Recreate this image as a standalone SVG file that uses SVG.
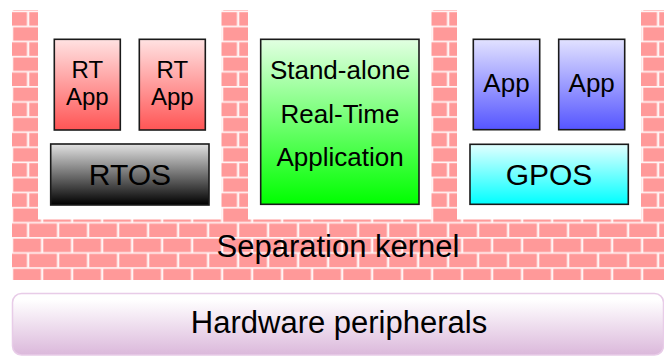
<svg xmlns="http://www.w3.org/2000/svg" width="664" height="356" viewBox="0 0 664 356">
  <defs>
    <pattern id="brick" patternUnits="userSpaceOnUse" x="-0.7" y="11" width="30" height="30.2">
      <rect width="30" height="30.2" fill="#fff4f4"/>
      <rect x="0" y="1.2" width="27.6" height="13.4" fill="#ff9999"/>
      <rect x="-16" y="16.3" width="27.6" height="13.4" fill="#ff9999"/>
      <rect x="14" y="16.3" width="27.6" height="13.4" fill="#ff9999"/>
    </pattern>
    <linearGradient id="gRed" x1="0" y1="0" x2="0" y2="1">
      <stop offset="0" stop-color="#ffe2e2"/>
      <stop offset="1" stop-color="#ff5555"/>
    </linearGradient>
    <linearGradient id="gGray" x1="0" y1="0" x2="0" y2="1">
      <stop offset="0" stop-color="#e2e2e2"/>
      <stop offset="1" stop-color="#000000"/>
    </linearGradient>
    <linearGradient id="gGreen" x1="0" y1="0" x2="0" y2="1">
      <stop offset="0" stop-color="#e2ffe2"/>
      <stop offset="1" stop-color="#00ff00"/>
    </linearGradient>
    <linearGradient id="gBlue" x1="0" y1="0" x2="0" y2="1">
      <stop offset="0" stop-color="#e2e2ff"/>
      <stop offset="1" stop-color="#5555ff"/>
    </linearGradient>
    <linearGradient id="gCyan" x1="0" y1="0" x2="0" y2="1">
      <stop offset="0" stop-color="#e2ffff"/>
      <stop offset="1" stop-color="#00ffff"/>
    </linearGradient>
    <linearGradient id="gHw" x1="0" y1="0" x2="0" y2="1">
      <stop offset="0.1" stop-color="#ffffff"/>
      <stop offset="1" stop-color="#dbb8db"/>
    </linearGradient>
  </defs>
  <style>
    .box { stroke: #1a1a1a; stroke-width: 1.6; }
    .t { font-family: "Liberation Sans", Arial, Helvetica, sans-serif; fill: #000; text-anchor: middle; }
    .s24 { font-size: 24px; }
    .s26 { font-size: 26px; }
    .s30 { font-size: 30px; }
    .s31 { font-size: 31px; }
  </style>

  <rect width="664" height="356" fill="#ffffff"/>

  <g id="separation-kernel">
    <rect x="12" y="10" width="652" height="270" fill="url(#brick)"/>
    <rect x="38" y="0" width="183.5" height="219.5" fill="#ffffff"/>
    <rect x="248" y="0" width="183.5" height="219.5" fill="#ffffff"/>
    <rect x="457" y="0" width="184" height="219.5" fill="#ffffff"/>
    <text class="t s31" x="338" y="257">Separation kernel</text>
  </g>

  <g id="rt-app-1">
    <rect class="box" x="54.3" y="39.3" width="66" height="90.7" fill="url(#gRed)"/>
    <text class="t s24" x="87.3" y="78">RT</text>
    <text class="t s24" x="87.3" y="105">App</text>
  </g>
  <g id="rt-app-2">
    <rect class="box" x="139.3" y="39.3" width="66" height="90.7" fill="url(#gRed)"/>
    <text class="t s24" x="172.3" y="78">RT</text>
    <text class="t s24" x="172.3" y="105">App</text>
  </g>
  <g id="rtos">
    <rect class="box" x="50.7" y="144" width="158.3" height="61" fill="url(#gGray)"/>
    <text class="t s30" x="130" y="185">RTOS</text>
  </g>

  <g id="standalone-app">
    <rect class="box" x="260.7" y="39.3" width="158.3" height="165" fill="url(#gGreen)"/>
    <text class="t s26" x="340" y="79">Stand-alone</text>
    <text class="t s26" x="340" y="123">Real-Time</text>
    <text class="t s26" x="340" y="166">Application</text>
  </g>

  <g id="app-1">
    <rect class="box" x="473.3" y="39.3" width="66.4" height="90.4" fill="url(#gBlue)"/>
    <text class="t s26" x="506.5" y="91.5">App</text>
  </g>
  <g id="app-2">
    <rect class="box" x="558.7" y="39.3" width="66" height="90.4" fill="url(#gBlue)"/>
    <text class="t s26" x="591.7" y="91.5">App</text>
  </g>
  <g id="gpos">
    <rect class="box" x="470" y="144.3" width="158.3" height="60" fill="url(#gCyan)"/>
    <text class="t s30" x="549" y="185">GPOS</text>
  </g>

  <g id="hardware-peripherals">
    <rect x="12.5" y="293.5" width="651" height="61.5" rx="9" ry="9" fill="url(#gHw)" stroke="#e8cce8" stroke-width="1.5"/>
    <text class="t s31" x="339" y="333">Hardware peripherals</text>
  </g>

  <g id="connectors"/>
</svg>
